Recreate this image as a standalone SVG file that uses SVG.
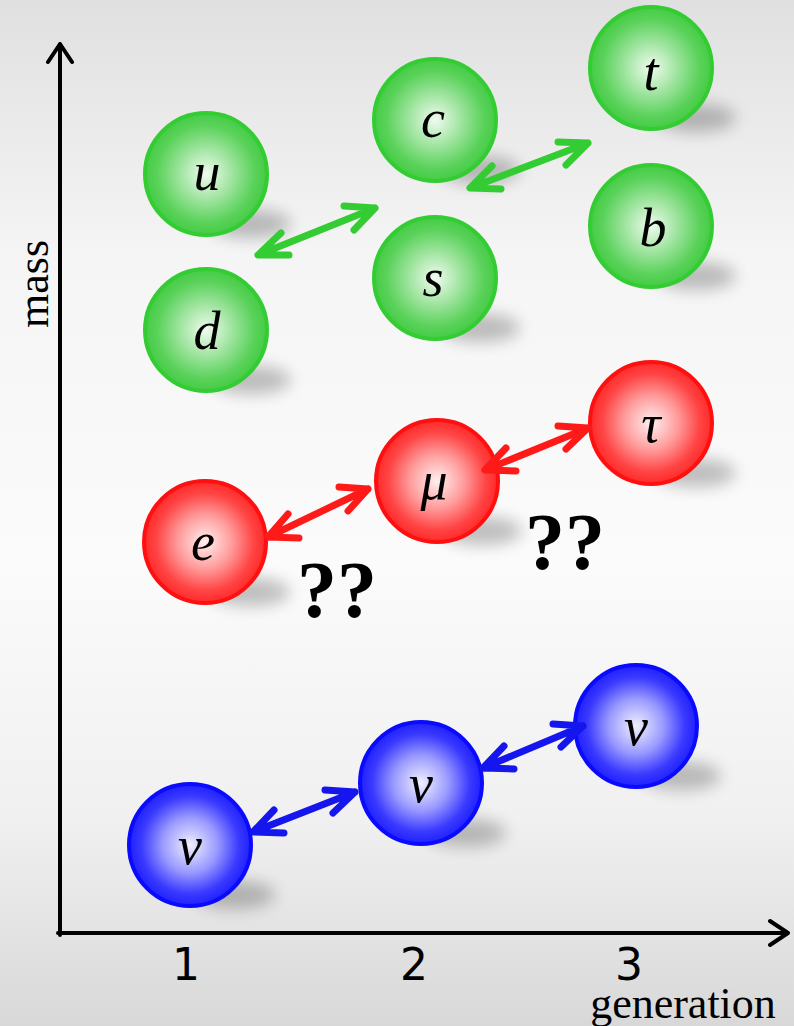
<svg xmlns="http://www.w3.org/2000/svg" width="794" height="1026" viewBox="0 0 794 1026">
<defs>
<linearGradient id="bg" x1="0" y1="0" x2="0" y2="1">
<stop offset="0" stop-color="#e0e0e0"/>
<stop offset="0.25" stop-color="#f5f5f5"/>
<stop offset="0.55" stop-color="#fbfbfb"/>
<stop offset="0.8" stop-color="#f0f0f0"/>
<stop offset="1" stop-color="#d8d8d8"/>
</linearGradient>
<radialGradient id="gG" cx="0.5" cy="0.5" r="0.5">
<stop offset="0" stop-color="#f0fbf0"/>
<stop offset="0.45" stop-color="#9be39b"/>
<stop offset="0.8" stop-color="#5ad25a"/>
<stop offset="1" stop-color="#45cc45"/>
</radialGradient>
<radialGradient id="gR" cx="0.5" cy="0.5" r="0.5">
<stop offset="0" stop-color="#fff0f0"/>
<stop offset="0.45" stop-color="#ff9a9a"/>
<stop offset="0.8" stop-color="#ff4545"/>
<stop offset="1" stop-color="#ff2a2a"/>
</radialGradient>
<radialGradient id="gB" cx="0.5" cy="0.5" r="0.5">
<stop offset="0" stop-color="#f0f0ff"/>
<stop offset="0.45" stop-color="#9a9aff"/>
<stop offset="0.8" stop-color="#3a3aff"/>
<stop offset="1" stop-color="#2020ff"/>
</radialGradient>
<filter id="blur" x="-50%" y="-100%" width="200%" height="300%"><feGaussianBlur stdDeviation="8"/></filter>
<g id="shadow"><ellipse cx="45" cy="50" rx="40" ry="14" fill="#000" opacity="0.24" filter="url(#blur)"/></g>
</defs>
<style>
.sg{fill:url(#gG);stroke:#33cc33;stroke-width:4}
.sr{fill:url(#gR);stroke:#ff1010;stroke-width:4}
.sb{fill:url(#gB);stroke:#0a0aff;stroke-width:4}
.lbl{font-family:"Liberation Serif",serif;font-style:italic;font-size:54px;fill:#000;text-anchor:middle}
.ag{stroke:#33cc33}
.ar{stroke:#ff1a1a}
.ab{stroke:#1515ee}
.arr{fill:none;stroke-width:7;stroke-linecap:round;stroke-linejoin:round}
.ax{fill:none;stroke:#000;stroke-width:4;stroke-linecap:round;stroke-linejoin:round}
.num{font-family:"DejaVu Sans",sans-serif;font-size:44px;fill:#000;text-anchor:middle}
.q{font-family:"Liberation Serif",serif;font-weight:bold;font-size:80px;fill:#000}
.ttl{font-family:"Liberation Serif",serif;font-size:44px;fill:#000;text-anchor:middle}
</style>
<rect width="794" height="1026" fill="url(#bg)"/>

<g id="shadows">
<use href="#shadow" x="206" y="174"/>
<use href="#shadow" x="206" y="330"/>
<use href="#shadow" x="435" y="120"/>
<use href="#shadow" x="435" y="278"/>
<use href="#shadow" x="651" y="68"/>
<use href="#shadow" x="651" y="226"/>
<use href="#shadow" x="205" y="542"/>
<use href="#shadow" x="437" y="481"/>
<use href="#shadow" x="651" y="423"/>
<use href="#shadow" x="190" y="845"/>
<use href="#shadow" x="421" y="783"/>
<use href="#shadow" x="636" y="726"/>
</g>

<g id="axes">
<path class="ax" d="M60,935 V44 M48,62 L60,44 L72,62"/>
<path class="ax" d="M58,933 H788 M770,921 L788,933 L770,945"/>
</g>
<text class="ttl" x="48" y="284" transform="rotate(-90 48 284)">mass</text>
<text class="num" x="186" y="980">1</text>
<text class="num" x="414" y="980">2</text>
<text class="num" x="629" y="980">3</text>
<text class="ttl" x="683" y="1018">generation</text>

<g id="node-u"><circle class="sg" cx="206" cy="174" r="61"/><text class="lbl" x="207" y="190">u</text></g>
<g id="node-d"><circle class="sg" cx="206" cy="330" r="61"/><text class="lbl" x="207" y="349">d</text></g>
<g id="node-c"><circle class="sg" cx="435" cy="120" r="61"/><text class="lbl" x="433" y="137">c</text></g>
<g id="node-s"><circle class="sg" cx="435" cy="278" r="61"/><text class="lbl" x="433" y="296">s</text></g>
<g id="node-t"><circle class="sg" cx="651" cy="68" r="61"/><text class="lbl" x="651" y="90">t</text></g>
<g id="node-b"><circle class="sg" cx="651" cy="226" r="61"/><text class="lbl" x="653" y="246">b</text></g>
<g id="node-e"><circle class="sr" cx="205" cy="542" r="61"/><text class="lbl" x="203" y="560">e</text></g>
<g id="node-mu"><circle class="sr" cx="437" cy="481" r="61"/><text class="lbl" x="434" y="499">μ</text></g>
<g id="node-tau"><circle class="sr" cx="651" cy="423" r="61"/><text class="lbl" x="651" y="442">τ</text></g>
<g id="node-nu1"><circle class="sb" cx="190" cy="845" r="61"/><text class="lbl" x="190" y="864">ν</text></g>
<g id="node-nu2"><circle class="sb" cx="421" cy="783" r="61"/><text class="lbl" x="421" y="802">ν</text></g>
<g id="node-nu3"><circle class="sb" cx="636" cy="726" r="61"/><text class="lbl" x="636" y="745">ν</text></g>

<g id="connectors">
<path class="arr ag" d="M258,255 L375,208 M281,233 L258,255 L289,255 M344,206 L375,208 M354,230 L375,208"/>
<path class="arr ag" d="M470,188 L588,143 M492,166 L470,188 L501,189 M558,142 L588,143 M566,165 L588,143"/>
<path class="arr ar" d="M268,537 L368,489 M288,514 L268,537 L299,538 M339,487 L368,489 M348,511 L368,489"/>
<path class="arr ar" d="M485,470 L588,428 M506,448 L485,470 L516,471 M558,426 L588,428 M566,449 L588,428"/>
<path class="arr ab" d="M253,832 L355,792 M274,810 L253,832 L284,833 M325,790 L355,792 M333,813 L355,792"/>
<path class="arr ab" d="M483,768 L583,726 M504,746 L483,768 L514,769 M553,724 L583,726 M561,747 L583,726"/>
</g>

<text class="q" x="297" y="617">??</text>
<text class="q" x="525" y="569">??</text>
</svg>
